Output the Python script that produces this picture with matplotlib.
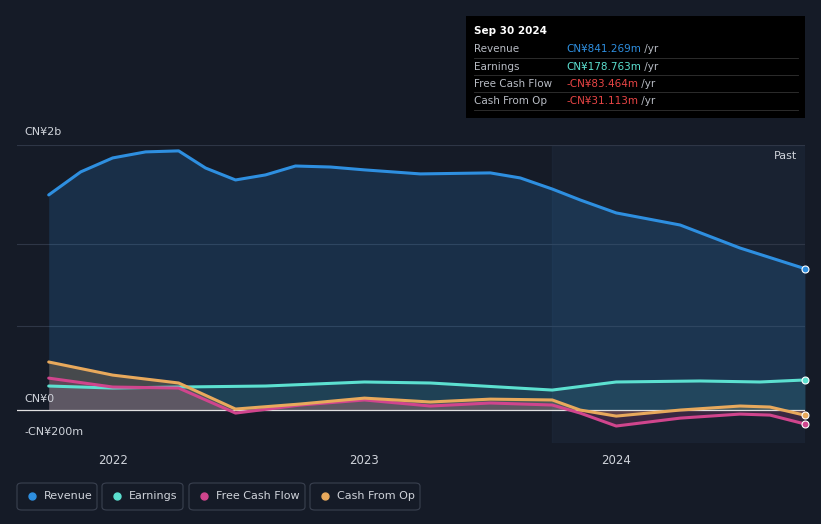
import matplotlib.pyplot as plt
from matplotlib.patches import FancyBboxPatch, Rectangle

# x positions as fractional years, values in CN¥ billions
rev_x = [2021.746, 2021.873, 2022.0, 2022.131, 2022.262, 2022.369, 2022.488, 2022.607, 2022.726,
         2022.865, 2023.0, 2023.222, 2023.5, 2023.619, 2023.746, 2023.857, 2024.0, 2024.254, 2024.492, 2024.75]
rev_y = [1.280, 1.417, 1.500, 1.536, 1.542, 1.440, 1.369, 1.399, 1.452,
         1.446, 1.429, 1.405, 1.411, 1.381, 1.315, 1.250, 1.173, 1.101, 0.964, 0.841]

earn_x = [2021.746, 2022.0, 2022.262, 2022.607, 2023.0, 2023.262, 2023.746, 2024.0, 2024.333, 2024.571, 2024.75]
earn_y = [0.143, 0.131, 0.137, 0.143, 0.167, 0.161, 0.119, 0.167, 0.173, 0.167, 0.179]

fcf_x = [2021.746, 2022.0, 2022.262, 2022.488, 2022.746, 2023.0, 2023.262, 2023.5, 2023.746, 2023.857, 2024.0, 2024.254, 2024.492, 2024.611, 2024.75]
fcf_y = [0.190, 0.137, 0.131, -0.018, 0.030, 0.060, 0.024, 0.042, 0.030, -0.018, -0.095, -0.048, -0.024, -0.030, -0.083]

cfo_x = fcf_x
cfo_y = [0.286, 0.208, 0.161, 0.006, 0.036, 0.071, 0.048, 0.065, 0.060, 0.000, -0.036, 0.000, 0.024, 0.018, -0.031]

BG = "#151b27"
C_REV = "#2e8fe0"
C_EARN = "#5ce0d0"
C_FCF = "#d0458d"
C_CFO = "#e8a95c"

fig = plt.figure(figsize=(8.21, 5.24), dpi=100, facecolor=BG)
ax = fig.add_axes([17/821, (524-443)/524, (805-17)/821, (443-145)/524], facecolor=BG)
ax.set_xlim(2021.62, 2024.75)
ax.set_ylim(-0.196, 1.577)

ax.axvspan(2023.746, 2024.75, color="#1e2a3c", alpha=0.5, zorder=0)
for g in [0.5, 0.99, 1.577]:
    ax.axhline(g, color="#2e3646", lw=0.8, zorder=1)
ax.axhline(0, color="#e0e0e0", lw=0.9, zorder=5)

ax.fill_between(rev_x, rev_y, 0, color=C_REV, alpha=0.18, lw=0, zorder=2)
ax.fill_between(cfo_x, cfo_y, 0, color=C_CFO, alpha=0.22, lw=0, zorder=3)
ax.fill_between(fcf_x, fcf_y, 0, color=C_FCF, alpha=0.18, lw=0, zorder=3)
ax.fill_between(earn_x, earn_y, 0, color=C_EARN, alpha=0.1, lw=0, zorder=3)

for x, y, c in [(rev_x, rev_y, C_REV), (earn_x, earn_y, C_EARN), (fcf_x, fcf_y, C_FCF), (cfo_x, cfo_y, C_CFO)]:
    ax.plot(x, y, color=c, lw=2.2, zorder=6, solid_capstyle="round")
    ax.plot(x[-1], y[-1], "o", ms=5, mfc=c, mec="white", mew=0.8, zorder=7, clip_on=False)

for s in ax.spines.values():
    s.set_visible(False)
ax.set_yticks([])
ax.set_xticks([2022, 2023, 2024])
ax.set_xticklabels(["2022", "2023", "2024"], color="#cfd3da", fontsize=8.5)
ax.tick_params(axis="x", length=0, pad=8)

fig.text(24/821, 1-132/524, "CN¥2b", color="#cfd3da", fontsize=8, va="center")
fig.text(24/821, 1-399/524, "CN¥0", color="#cfd3da", fontsize=8, va="center")
fig.text(24/821, 1-432/524, "-CN¥200m", color="#cfd3da", fontsize=8, va="center")
fig.text(797/821, 1-156/524, "Past", color="#cfd3da", fontsize=8, va="center", ha="right")

# tooltip
fig.patches.append(Rectangle((466/821, 1-118/524), 339/821, 102/524, transform=fig.transFigure,
                             facecolor="black", edgecolor="none", zorder=10))
fig.text(474/821, 1-31/524, "Sep 30 2024", color="white", fontsize=7.5, va="center", zorder=11, fontweight="bold")
rows = [("Revenue", "CN¥841.269m", C_REV), ("Earnings", "CN¥178.763m", C_EARN),
        ("Free Cash Flow", "-CN¥83.464m", "#e84545"), ("Cash From Op", "-CN¥31.113m", "#e84545")]
fig.canvas.draw()
rend = fig.canvas.get_renderer()
for i, (lab, val, c) in enumerate(rows):
    yy = 1 - (49 + 17.5*i)/524
    fig.text(474/821, yy, lab, color="#b8bcc4", fontsize=7.5, va="center", zorder=11)
    t = fig.text(566/821, yy, val, color=c, fontsize=7.5, va="center", zorder=11)
    w = t.get_window_extent(rend).width
    fig.text((566 + w)/821, yy, " /yr", color="#b8bcc4", fontsize=7.5, va="center", zorder=11)
    fig.add_artist(plt.Line2D([474/821, 798/821], [yy - 8.5/524]*2, color="#333", lw=0.6, zorder=11))

# legend
items = [("Revenue", C_REV, 17, 97), ("Earnings", C_EARN, 102, 183), ("Free Cash Flow", C_FCF, 189, 305), ("Cash From Op", C_CFO, 310, 420)]
for lab, c, x0, x1 in items:
    fig.patches.append(FancyBboxPatch((x0/821, 1-510/524), (x1-x0)/821, 27/524, transform=fig.transFigure,
                                      boxstyle="round,pad=0,rounding_size=0.006", facecolor=BG,
                                      edgecolor="#3a4150", lw=0.8))
    fig.add_artist(plt.Line2D([(x0+15)/821], [1-496/524], marker="o", ms=5, color=c, lw=0))
    fig.text((x0+27)/821, 1-496/524, lab, color="#cfd3da", fontsize=8, va="center")

fig.savefig("out.png", dpi=100, facecolor=BG)
